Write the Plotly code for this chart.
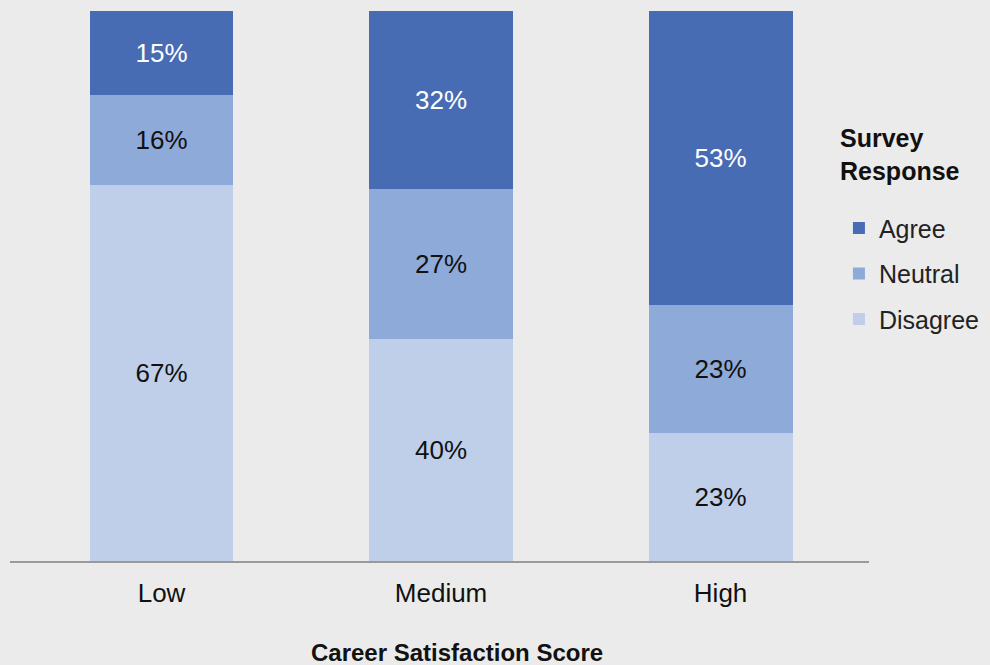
import plotly.graph_objects as go

# Career satisfaction vs. survey response (percent of respondents)
categories = ["Low", "Medium", "High"]
disagree = [67, 40, 23]
neutral = [16, 27, 23]
agree = [15, 32, 53]

series = [
    ("Disagree", disagree, "#bfcfea", "#111111", 3),
    ("Neutral", neutral, "#8eaad9", "#111111", 2),
    ("Agree", agree, "#476cb4", "#ffffff", 1),
]

FONT = "Liberation Sans, Arial, sans-serif"

fig = go.Figure()
for name, vals, color, tcolor, rank in series:
    fig.add_trace(go.Bar(
        x=categories,
        y=vals,
        name=name,
        marker=dict(color=color, line=dict(width=0)),
        text=[f"{v}%" for v in vals],
        textposition="inside",
        insidetextanchor="middle",
        textangle=0,
        textfont=dict(color=tcolor, size=26, family=FONT),
        legendgroup=name,
        legendrank=rank,
        hoverinfo="skip",
    ))

fig.update_layout(
    width=990,
    height=665,
    barmode="stack",
    barnorm="percent",
    bargap=0.485,
    paper_bgcolor="#ebebeb",
    plot_bgcolor="#ebebeb",
    margin=dict(l=10, r=121, t=11, b=104, autoexpand=False),
    font=dict(family=FONT, size=25, color="#111111"),
    uniformtext=dict(mode="show", minsize=25),
    showlegend=True,
    legend=dict(
        font=dict(size=25, family=FONT, color="#222222"),
        x=0.965, xanchor="left", xref="paper",
        y=0.647, yanchor="top",
        bgcolor="rgba(0,0,0,0)",
        tracegroupgap=10,
        itemwidth=30,
    ),
    xaxis=dict(
        type="category",
        range=[-0.542, 2.531],
        showline=True,
        linecolor="#9a9a9a",
        linewidth=2,
        ticks="",
        showgrid=False,
        tickfont=dict(size=26, family=FONT, color="#111111"),
        ticklabelstandoff=8,
        fixedrange=True,
    ),
    yaxis=dict(
        range=[0, 100],
        visible=False,
        showgrid=False,
        zeroline=False,
        fixedrange=True,
    ),
    annotations=[
        dict(
            text="<b>Career Satisfaction Score</b>",
            xref="paper", yref="paper",
            x=0.5204, y=-0.167,
            xanchor="center", yanchor="middle",
            showarrow=False,
            font=dict(size=24, family=FONT, color="#111111"),
        ),
        dict(
            text="<b>Survey<br>Response</b>",
            xref="paper", yref="paper",
            x=0.964, y=0.739,
            xanchor="left", yanchor="middle", align="left",
            showarrow=False,
            font=dict(size=25, family=FONT, color="#111111"),
        ),
    ],
)

fig.write_html("out.html")
